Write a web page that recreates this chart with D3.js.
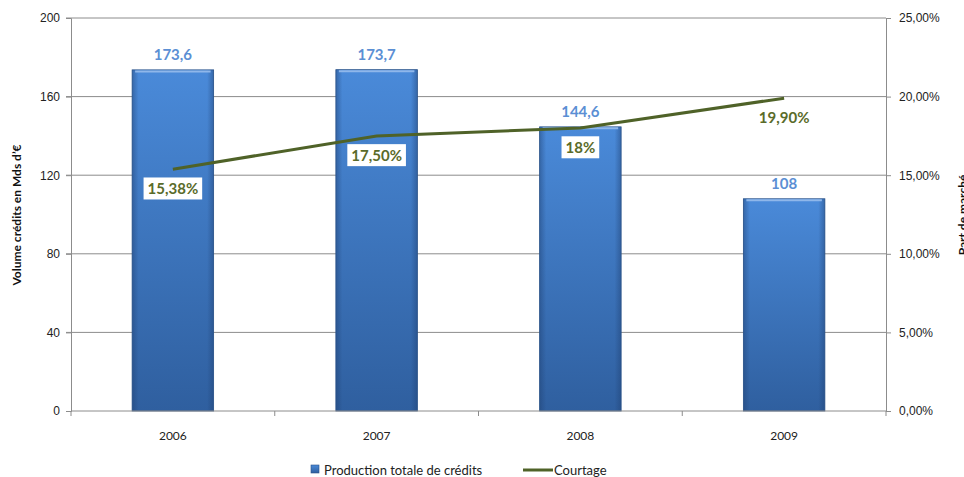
<!DOCTYPE html>
<html lang="fr">
<head>
  <meta charset="UTF-8">
  <title>Production de crédits et courtage</title>
  <style>
    body { margin: 0; background: #fff; }
    svg { font-family: Lato, "Open Sans", sans-serif; }
  </style>
  <script src="https://d3js.org/d3.v7.min.js"></script>
</head>
<body>
<script>
  var years = ["2006", "2007", "2008", "2009"];
  var production = [173.6, 173.7, 144.6, 108];
  var productionLabels = ["173,6", "173,7", "144,6", "108"];
  var courtage = [15.38, 17.5, 18, 19.9];
  var courtageLabels = ["15,38%", "17,50%", "18%", "19,90%"];
  var leftTicks = [0, 40, 80, 120, 160, 200];
  var rightTicks = [0, 5, 10, 15, 20, 25];

  var W = 964, H = 477;
  var plotLeft = 71, plotRight = 886, plotTop = 18, plotBottom = 411;

  var svg = d3.select("body").append("svg")
    .attr("width", W).attr("height", H);

  var defs = svg.append("defs");
  var grad = defs.append("linearGradient").attr("id", "barGrad")
    .attr("x1", 0).attr("y1", 0).attr("x2", 0).attr("y2", 1);
  grad.append("stop").attr("offset", "0%").attr("stop-color", "#4a8ad9");
  grad.append("stop").attr("offset", "100%").attr("stop-color", "#2f5f9f");
  var side = defs.append("linearGradient").attr("id", "sideGrad")
    .attr("x1", 0).attr("y1", 0).attr("x2", 1).attr("y2", 0);
  side.append("stop").attr("offset", "0%").attr("stop-color", "#1f3f70").attr("stop-opacity", 0.45);
  side.append("stop").attr("offset", "8%").attr("stop-color", "#1f3f70").attr("stop-opacity", 0);
  side.append("stop").attr("offset", "92%").attr("stop-color", "#1f3f70").attr("stop-opacity", 0);
  side.append("stop").attr("offset", "100%").attr("stop-color", "#1f3f70").attr("stop-opacity", 0.45);

  var x = d3.scaleBand().domain(years).range([plotLeft, plotRight]).paddingInner(0.6).paddingOuter(0.3);
  var xc = d3.scalePoint().domain(years).range([plotLeft, plotRight]).padding(0.5);
  var y = d3.scaleLinear().domain([0, 200]).range([plotBottom, plotTop]);
  var y2 = d3.scaleLinear().domain([0, 25]).range([plotBottom, plotTop]);

  // gridlines
  svg.append("g").selectAll("line").data(leftTicks.slice(1)).join("line")
    .attr("x1", plotLeft - 5).attr("x2", plotRight)
    .attr("y1", function (d) { return y(d); }).attr("y2", function (d) { return y(d); })
    .attr("stroke", "#8c8c8c").attr("stroke-width", 1);

  // left axis
  var yAxis = svg.append("g").attr("transform", "translate(" + plotLeft + ",0)")
    .call(d3.axisLeft(y).tickValues(leftTicks).tickSize(5).tickPadding(6));
  yAxis.select(".domain").attr("stroke", "#8c8c8c");
  yAxis.selectAll(".tick line").attr("stroke", "#8c8c8c");
  yAxis.selectAll("text").attr("font-size", 12).attr("fill", "#222");

  // right axis
  var fmtPct = function (d) { return d3.format(".2f")(d).replace(".", ",") + "%"; };
  var y2Axis = svg.append("g").attr("transform", "translate(" + plotRight + ",0)")
    .call(d3.axisRight(y2).tickValues(rightTicks).tickFormat(fmtPct).tickSize(5).tickPadding(8));
  y2Axis.select(".domain").attr("stroke", "#8c8c8c");
  y2Axis.selectAll(".tick line").attr("stroke", "#8c8c8c");
  y2Axis.selectAll("text").attr("font-size", 12).attr("fill", "#222");

  // bars
  var bars = svg.append("g");
  bars.selectAll("rect.bar").data(production).join("rect")
    .attr("class", "bar")
    .attr("x", function (d, i) { return x(years[i]); })
    .attr("y", function (d) { return y(d); })
    .attr("width", x.bandwidth())
    .attr("height", function (d) { return plotBottom - y(d); })
    .attr("fill", "url(#barGrad)");
  bars.selectAll("rect.edge").data(production).join("rect")
    .attr("class", "edge")
    .attr("x", function (d, i) { return x(years[i]); })
    .attr("y", function (d) { return y(d); })
    .attr("width", x.bandwidth())
    .attr("height", function (d) { return plotBottom - y(d); })
    .attr("fill", "url(#sideGrad)")
    .attr("stroke", "#2a5288").attr("stroke-width", 0.8);
  bars.selectAll("line.hl").data(production).join("line")
    .attr("class", "hl")
    .attr("x1", function (d, i) { return x(years[i]) + 3; })
    .attr("x2", function (d, i) { return x(years[i]) + x.bandwidth() - 3; })
    .attr("y1", function (d) { return y(d) + 1.5; })
    .attr("y2", function (d) { return y(d) + 1.5; })
    .attr("stroke", "#8fb7ea").attr("stroke-width", 2);

  // x axis
  var xAxis = svg.append("g").attr("transform", "translate(0," + plotBottom + ")");
  xAxis.append("line").attr("x1", plotLeft).attr("x2", plotRight).attr("stroke", "#8c8c8c");
  var bounds = years.map(function (d) { return xc(d) - xc.step() / 2; }).concat([plotRight]);
  xAxis.selectAll("line.t").data(bounds).join("line").attr("class", "t")
    .attr("x1", function (d) { return d; }).attr("x2", function (d) { return d; })
    .attr("y1", 0).attr("y2", 5).attr("stroke", "#8c8c8c");
  xAxis.selectAll("text").data(years).join("text")
    .attr("x", function (d) { return xc(d); }).attr("y", 29)
    .attr("text-anchor", "middle").attr("font-size", 12).attr("fill", "#222")
    .text(function (d) { return d; });

  // bar value labels
  svg.append("g").selectAll("text").data(production).join("text")
    .attr("x", function (d, i) { return xc(years[i]); })
    .attr("y", function (d) { return y(d) - 10; })
    .attr("text-anchor", "middle").attr("font-size", 15).attr("font-weight", "bold")
    .attr("fill", "#5b8fd4")
    .text(function (d, i) { return productionLabels[i]; });

  // line
  var line = d3.line()
    .x(function (d, i) { return xc(years[i]); })
    .y(function (d) { return y2(d); });
  svg.append("path").datum(courtage)
    .attr("d", line).attr("fill", "none")
    .attr("stroke", "#4f6228").attr("stroke-width", 3);

  // line labels
  var lab = svg.append("g").selectAll("g").data(courtage).join("g")
    .attr("transform", function (d, i) { return "translate(" + xc(years[i]) + "," + (y2(d) + 20) + ")"; });
  lab.append("text")
    .attr("text-anchor", "middle").attr("dy", "0.35em")
    .attr("font-size", 15).attr("font-weight", "bold").attr("fill", "#5a6b2a")
    .text(function (d, i) { return courtageLabels[i]; });
  lab.each(function () {
    var g = d3.select(this), b = g.select("text").node().getBBox();
    g.insert("rect", "text")
      .attr("x", b.x - 4).attr("y", b.y - 2)
      .attr("width", b.width + 8).attr("height", b.height + 4)
      .attr("fill", "#fff");
  });

  // axis titles
  svg.append("text")
    .attr("transform", "translate(21,215) rotate(-90)")
    .attr("text-anchor", "middle").attr("font-size", 12).attr("font-weight", "bold").attr("fill", "#111")
    .text("Volume crédits en Mds d’€");
  svg.append("text")
    .attr("transform", "translate(967,215) rotate(-90)")
    .attr("text-anchor", "middle").attr("font-size", 12).attr("font-weight", "bold").attr("fill", "#111")
    .text("Part de marché");

  // legend
  var lg = svg.append("g").attr("transform", "translate(0,470)");
  lg.append("rect").attr("x", 311).attr("y", -5).attr("width", 8).attr("height", 8)
    .attr("fill", "url(#barGrad)").attr("stroke", "#2a5288").attr("stroke-width", 0.6);
  lg.append("text").attr("x", 324).attr("y", 0).attr("dy", "0.35em")
    .attr("font-size", 13).attr("fill", "#222").text("Production totale de crédits");
  lg.append("line").attr("x1", 523).attr("x2", 553).attr("y1", 0).attr("y2", 0)
    .attr("stroke", "#4f6228").attr("stroke-width", 3);
  lg.append("text").attr("x", 554).attr("y", 0).attr("dy", "0.35em")
    .attr("font-size", 13).attr("fill", "#222").text("Courtage");
</script>
</body>
</html>
